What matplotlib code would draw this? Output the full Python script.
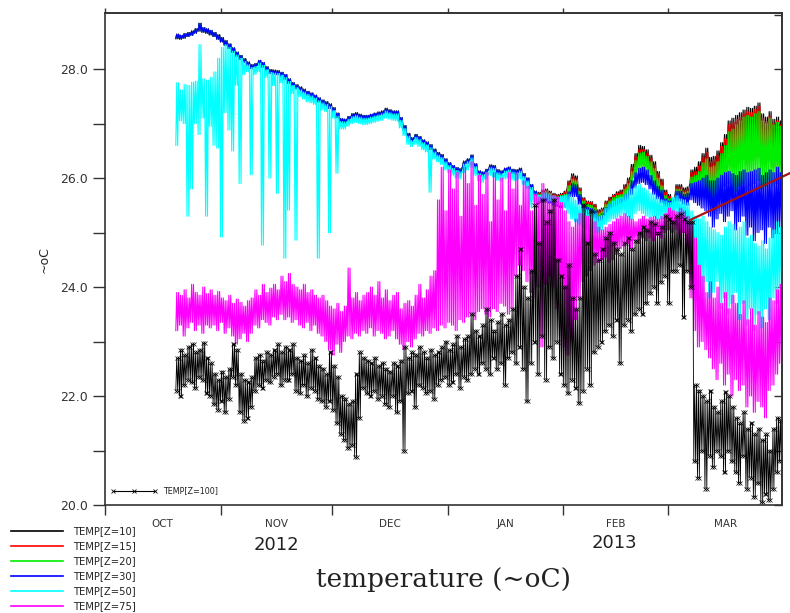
#!/usr/bin/env python3
"""
plot.py

Mooring temperature at seven depths, Oct 2012 - Mar 2013 (Ferret style).
Each day is given as a low / high pair read off the original figure.
"""

import numpy as np
import matplotlib
matplotlib.use('Agg')
from matplotlib import pyplot as plt
from matplotlib import rcParams
from matplotlib.lines import Line2D

# days are counted from 1 Oct 2012
first_day = 19
split_day = 116

# the four shallow sensors sit on top of each other until late January
surf_hi = [28.64, 28.62, 28.65, 28.67, 28.70, 28.74, 28.84, 28.76, 28.74, 28.71,
           28.67, 28.63, 28.58, 28.52, 28.46, 28.39, 28.31, 28.25, 28.19, 28.13,
           28.08, 28.10, 28.16, 28.12, 28.04, 27.99, 27.98, 27.97, 27.94, 27.90,
           27.82, 27.75, 27.71, 27.67, 27.63, 27.59, 27.56, 27.52, 27.47, 27.43,
           27.40, 27.36, 27.29, 27.19, 27.09, 27.08, 27.13, 27.18, 27.20, 27.17,
           27.15, 27.15, 27.17, 27.19, 27.21, 27.23, 27.28, 27.25, 27.23, 27.23,
           27.11, 26.96, 26.82, 26.74, 26.80, 26.76, 26.70, 26.66, 26.61, 26.53,
           26.47, 26.43, 26.35, 26.28, 26.23, 26.19, 26.17, 26.31, 26.35, 26.42,
           26.26, 26.13, 26.11, 26.16, 26.24, 26.23, 26.15, 26.13, 26.18, 26.20,
           26.16, 26.15, 26.18, 26.08, 26.00, 25.88, 25.76]
surf_lo = [28.56, 28.55, 28.57, 28.60, 28.62, 28.66, 28.70, 28.68, 28.66, 28.63,
           28.60, 28.55, 28.50, 28.44, 28.38, 28.31, 28.24, 28.18, 28.12, 28.06,
           28.01, 28.03, 28.07, 28.04, 27.96, 27.92, 27.91, 27.90, 27.86, 27.82,
           27.74, 27.68, 27.64, 27.60, 27.56, 27.52, 27.48, 27.44, 27.40, 27.36,
           27.32, 27.28, 27.21, 27.11, 27.02, 27.01, 27.05, 27.10, 27.12, 27.09,
           27.08, 27.08, 27.10, 27.12, 27.14, 27.16, 27.19, 27.18, 27.16, 27.15,
           27.03, 26.88, 26.74, 26.67, 26.72, 26.68, 26.63, 26.58, 26.53, 26.45,
           26.40, 26.35, 26.27, 26.20, 26.15, 26.11, 26.09, 26.22, 26.27, 26.33,
           26.18, 26.05, 26.03, 26.08, 26.15, 26.15, 26.07, 26.05, 26.10, 26.12,
           26.08, 26.07, 26.10, 26.00, 25.92, 25.80, 25.68]

# from split_day on, each shallow sensor separately
z10_hi = [25.74, 25.78, 25.80, 25.76, 25.72, 25.70, 25.72, 25.76, 25.95, 26.08,
          26.04, 25.82, 25.64, 25.58, 25.57, 25.52, 25.42, 25.45, 25.58, 25.65,
          25.70, 25.75, 25.78, 25.88, 26.00, 26.25, 26.45, 26.60, 26.58, 26.52,
          26.42, 26.30, 26.12, 25.98, 25.78, 25.70, 25.62, 25.88, 25.88, 25.82,
          25.84, 26.15, 26.20, 26.30, 26.45, 26.55, 26.38, 26.40, 26.50, 26.65,
          26.80, 27.05, 27.10, 27.15, 27.20, 27.25, 27.30, 27.28, 27.32, 27.38,
          27.18, 27.12, 27.22, 27.08, 27.12, 27.05]
z10_lo = [25.64, 25.68, 25.70, 25.66, 25.62, 25.60, 25.62, 25.64, 25.80, 25.92,
          25.90, 25.70, 25.52, 25.45, 25.44, 25.40, 25.30, 25.33, 25.45, 25.52,
          25.58, 25.62, 25.65, 25.72, 25.82, 26.02, 26.20, 26.35, 26.35, 26.30,
          26.20, 26.08, 25.92, 25.80, 25.62, 25.56, 25.50, 25.70, 25.72, 25.68,
          25.68, 25.90, 25.95, 26.00, 26.10, 26.20, 26.05, 26.05, 26.15, 26.25,
          26.35, 26.50, 26.55, 26.50, 26.60, 26.65, 26.70, 26.65, 26.70, 26.75,
          26.60, 26.55, 26.60, 26.50, 26.55, 26.50]
z15_hi = [25.72, 25.76, 25.78, 25.74, 25.70, 25.68, 25.70, 25.74, 25.92, 26.04,
          26.00, 25.80, 25.62, 25.56, 25.55, 25.50, 25.40, 25.43, 25.56, 25.62,
          25.68, 25.72, 25.75, 25.85, 25.96, 26.20, 26.40, 26.52, 26.52, 26.46,
          26.36, 26.24, 26.08, 25.94, 25.74, 25.66, 25.58, 25.84, 25.84, 25.78,
          25.80, 26.10, 26.12, 26.22, 26.38, 26.48, 26.30, 26.34, 26.42, 26.58,
          26.72, 26.98, 27.02, 27.08, 27.12, 27.18, 27.22, 27.20, 27.26, 27.32,
          27.10, 27.04, 27.14, 27.00, 27.05, 26.98]
z15_lo = [25.62, 25.66, 25.68, 25.64, 25.60, 25.58, 25.58, 25.60, 25.74, 25.86,
          25.84, 25.66, 25.48, 25.42, 25.40, 25.36, 25.26, 25.30, 25.42, 25.48,
          25.54, 25.58, 25.60, 25.66, 25.76, 25.94, 26.10, 26.24, 26.25, 26.20,
          26.10, 25.98, 25.84, 25.72, 25.56, 25.50, 25.44, 25.62, 25.64, 25.60,
          25.60, 25.80, 25.85, 25.90, 26.00, 26.05, 25.95, 25.95, 26.00, 26.10,
          26.20, 26.30, 26.25, 26.20, 26.30, 26.35, 26.25, 26.30, 26.35, 26.40,
          26.25, 26.20, 26.30, 26.20, 26.25, 26.20]
z20_hi = [25.70, 25.74, 25.76, 25.72, 25.68, 25.66, 25.68, 25.70, 25.86, 25.98,
          25.96, 25.76, 25.58, 25.52, 25.50, 25.46, 25.36, 25.40, 25.52, 25.58,
          25.64, 25.68, 25.70, 25.80, 25.90, 26.12, 26.32, 26.46, 26.48, 26.40,
          26.30, 26.18, 26.00, 25.86, 25.68, 25.62, 25.55, 25.80, 25.80, 25.74,
          25.76, 26.02, 26.05, 26.12, 26.28, 26.35, 26.20, 26.22, 26.30, 26.45,
          26.60, 26.85, 26.90, 26.98, 27.05, 27.12, 27.15, 27.12, 27.18, 27.22,
          27.05, 27.00, 27.10, 26.98, 27.02, 26.95]
z20_lo = [25.58, 25.62, 25.64, 25.60, 25.56, 25.54, 25.54, 25.55, 25.66, 25.76,
          25.76, 25.60, 25.44, 25.38, 25.36, 25.32, 25.22, 25.26, 25.38, 25.44,
          25.50, 25.52, 25.54, 25.60, 25.68, 25.84, 26.00, 26.12, 26.14, 26.10,
          26.00, 25.88, 25.74, 25.62, 25.48, 25.44, 25.38, 25.55, 25.58, 25.54,
          25.52, 25.70, 25.72, 25.70, 25.75, 25.80, 25.55, 25.50, 25.60, 25.75,
          25.85, 25.90, 25.80, 25.75, 25.85, 25.90, 25.80, 25.85, 25.90, 25.95,
          25.80, 25.85, 25.95, 25.85, 25.90, 25.85]
z30_hi = [25.66, 25.70, 25.72, 25.68, 25.64, 25.62, 25.62, 25.62, 25.75, 25.90,
          25.88, 25.70, 25.52, 25.46, 25.44, 25.40, 25.30, 25.34, 25.46, 25.52,
          25.56, 25.60, 25.62, 25.70, 25.78, 25.95, 26.10, 26.18, 26.20, 26.15,
          26.05, 25.95, 25.85, 25.78, 25.62, 25.58, 25.52, 25.76, 25.76, 25.70,
          25.72, 25.90, 25.92, 25.95, 26.00, 26.05, 25.95, 25.95, 26.00, 26.05,
          26.10, 26.12, 26.08, 26.05, 26.12, 26.15, 26.10, 26.12, 26.15, 26.18,
          26.05, 26.10, 26.15, 26.10, 26.20, 26.10]
z30_lo = [25.52, 25.56, 25.58, 25.54, 25.50, 25.48, 25.46, 25.46, 25.55, 25.66,
          25.66, 25.52, 25.36, 25.30, 25.28, 25.24, 25.14, 25.18, 25.30, 25.36,
          25.40, 25.42, 25.44, 25.50, 25.56, 25.70, 25.82, 25.90, 25.92, 25.88,
          25.80, 25.70, 25.62, 25.55, 25.42, 25.40, 25.35, 25.55, 25.58, 25.52,
          25.50, 25.60, 25.55, 25.50, 25.45, 25.40, 25.30, 25.10, 25.25, 25.35,
          25.20, 25.30, 25.40, 25.05, 25.20, 25.30, 24.95, 25.10, 24.85, 25.00,
          25.05, 24.80, 25.10, 24.90, 25.00, 25.10]

# deeper sensors, whole record from first_day
z50_hi = [27.75, 27.62, 27.72, 27.70, 27.76, 27.78, 28.45, 27.82, 27.80, 27.85,
          27.95, 28.20, 28.40, 28.45, 28.40, 28.33, 28.26, 28.20, 28.14, 28.08,
          28.03, 28.05, 28.11, 28.07, 27.99, 27.94, 27.93, 27.92, 27.89, 27.85,
          27.77, 27.70, 27.66, 27.62, 27.58, 27.54, 27.51, 27.47, 27.42, 27.38,
          27.35, 27.31, 27.24, 27.14, 27.04, 27.03, 27.08, 27.13, 27.15, 27.12,
          27.10, 27.10, 27.12, 27.14, 27.16, 27.18, 27.23, 27.20, 27.18, 27.18,
          27.06, 26.91, 26.77, 26.69, 26.75, 26.71, 26.65, 26.61, 26.56, 26.48,
          26.42, 26.38, 26.30, 26.23, 26.18, 26.14, 26.12, 26.26, 26.30, 26.37,
          26.21, 26.08, 26.06, 26.11, 26.19, 26.18, 26.10, 26.08, 26.13, 26.15,
          26.11, 26.10, 26.13, 26.03, 25.95, 25.83, 25.71, 25.69, 25.73, 25.75,
          25.71, 25.67, 25.65, 25.67, 25.69, 25.70, 25.65, 25.60, 25.50, 25.45,
          25.42, 25.40, 25.35, 25.30, 25.32, 25.45, 25.52, 25.58, 25.62, 25.65,
          25.70, 25.78, 25.80, 25.85, 25.88, 25.82, 25.78, 25.72, 25.70, 25.65,
          25.60, 25.58, 25.55, 25.65, 25.68, 25.62, 25.60, 25.55, 25.40, 25.30,
          25.25, 25.30, 25.20, 25.10, 25.05, 25.00, 24.95, 25.10, 25.20, 25.15,
          25.05, 25.10, 25.20, 24.90, 24.95, 24.80, 24.75, 24.85, 24.70, 24.90,
          25.05, 25.20, 25.10]
z50_lo = [26.60, 27.05, 27.00, 25.30, 25.80, 27.00, 26.80, 27.10, 25.30, 26.95,
          26.60, 26.55, 24.92, 27.20, 26.88, 26.50, 27.70, 25.90, 27.90, 27.95,
          26.06, 27.90, 27.95, 24.77, 27.85, 26.00, 27.70, 25.72, 27.75, 24.53,
          25.41, 27.55, 24.86, 27.50, 27.45, 27.40, 27.38, 27.35, 24.53, 27.25,
          27.22, 25.00, 27.10, 26.09, 26.90, 26.90, 26.95, 27.00, 27.02, 27.00,
          26.98, 26.98, 27.00, 27.02, 27.04, 27.06, 27.10, 27.08, 27.06, 27.05,
          26.92, 26.78, 26.62, 26.58, 26.62, 26.58, 26.52, 26.48, 25.74, 26.35,
          26.30, 26.25, 26.15, 26.10, 26.05, 26.00, 25.98, 26.10, 26.15, 26.20,
          26.05, 25.95, 25.92, 25.98, 26.05, 26.02, 25.96, 25.94, 25.98, 26.00,
          25.96, 25.95, 25.98, 25.88, 25.80, 25.45, 25.56, 25.56, 25.60, 25.62,
          25.58, 25.55, 25.52, 25.50, 25.45, 25.35, 25.25, 25.20, 25.15, 25.10,
          25.05, 25.02, 25.00, 25.00, 25.05, 25.15, 25.20, 25.25, 25.25, 25.30,
          25.35, 25.30, 25.25, 25.35, 25.40, 25.35, 25.30, 25.28, 25.30, 25.25,
          25.25, 25.30, 25.28, 25.30, 25.35, 25.30, 25.25, 25.10, 24.60, 24.20,
          24.00, 23.85, 24.10, 23.80, 23.90, 24.10, 23.60, 23.80, 23.50, 23.70,
          23.90, 23.40, 23.70, 23.30, 23.60, 23.20, 23.50, 23.25, 23.60, 23.40,
          23.80, 23.70, 24.00]
z75_hi = [23.90, 23.85, 23.95, 23.80, 24.05, 23.90, 23.85, 24.00, 23.88, 23.95,
          23.85, 23.92, 23.80, 23.75, 23.85, 23.70, 23.78, 23.72, 23.65, 23.75,
          23.80, 23.95, 23.85, 24.05, 23.90, 23.98, 24.05, 23.95, 24.20, 24.10,
          24.25, 24.05, 24.00, 23.95, 24.05, 23.90, 23.95, 23.85, 23.80, 23.85,
          23.75, 23.65, 23.60, 23.70, 23.55, 23.65, 24.35, 23.80, 23.90, 23.75,
          23.85, 23.90, 24.00, 23.85, 24.10, 23.80, 23.95, 23.75, 23.85, 23.90,
          23.60, 23.70, 23.75, 23.65, 23.85, 24.05, 23.80, 23.95, 24.20, 24.30,
          25.60, 26.20, 25.40, 26.15, 25.80, 26.10, 25.30, 26.20, 25.90, 26.30,
          25.50, 26.05, 25.70, 26.10, 25.20, 26.10, 25.60, 26.00, 25.40, 26.10,
          25.80, 26.10, 25.50, 25.95, 25.85, 25.40, 25.70, 25.65, 25.90, 25.75,
          25.70, 25.68, 25.65, 25.55, 25.40, 25.20, 25.10, 25.25, 25.35, 25.35,
          25.30, 25.25, 25.20, 25.10, 25.05, 25.10, 25.15, 25.20, 25.25, 25.30,
          25.35, 25.30, 25.25, 25.20, 25.25, 25.30, 25.25, 25.28, 25.30, 25.25,
          25.30, 25.35, 25.45, 25.40, 25.38, 25.45, 25.40, 25.30, 25.20, 24.90,
          24.40, 24.20, 23.90, 24.10, 23.80, 24.00, 23.70, 23.90, 23.60, 23.85,
          23.70, 23.50, 23.75, 23.40, 23.60, 23.30, 23.55, 23.45, 23.35, 23.80,
          23.75, 23.95, 24.05]
z75_lo = [23.20, 23.30, 23.10, 23.25, 23.35, 23.20, 23.30, 23.15, 23.30, 23.25,
          23.30, 23.20, 23.35, 23.15, 23.25, 23.10, 22.95, 23.05, 23.15, 23.00,
          23.15, 23.30, 23.25, 23.40, 23.35, 23.30, 23.45, 23.40, 23.50, 23.40,
          23.45, 23.35, 23.40, 23.30, 23.25, 23.35, 23.20, 23.30, 23.15, 23.10,
          23.00, 22.85, 22.75, 22.95, 22.80, 23.00, 23.10, 23.05, 23.15, 23.10,
          23.20, 23.15, 23.25, 23.10, 23.20, 23.15, 23.05, 23.10, 23.20, 23.05,
          22.95, 22.85, 23.00, 22.90, 23.05, 23.15, 23.10, 23.20, 23.15, 23.25,
          23.20, 23.30, 23.25, 23.35, 23.30, 23.20, 23.40, 23.35, 23.45, 23.50,
          23.40, 23.55, 23.60, 23.50, 23.45, 23.60, 23.55, 23.70, 23.65, 23.50,
          23.60, 24.20, 24.40, 24.30, 24.10, 23.90, 23.80, 24.00, 22.90, 24.05,
          24.20, 24.00, 23.60, 23.20, 22.90, 22.75, 23.00, 23.40, 23.80, 24.10,
          24.20, 24.30, 24.40, 24.45, 24.50, 24.55, 24.45, 24.50, 24.60, 24.70,
          24.75, 24.80, 24.70, 24.85, 24.80, 24.90, 24.85, 24.90, 24.85, 24.95,
          24.90, 25.00, 25.05, 25.00, 25.05, 24.95, 25.00, 24.60, 23.80, 23.20,
          22.90, 23.00, 22.85, 22.70, 22.50, 22.30, 22.60, 22.20, 22.40, 22.00,
          22.30, 22.10, 22.20, 21.80, 22.00, 21.70, 21.90, 21.80, 21.60, 22.10,
          22.20, 22.40, 22.60]
z100_hi = [22.70, 22.85, 22.75, 22.90, 22.95, 22.80, 22.85, 22.98, 22.70, 22.60,
           22.40, 22.30, 22.45, 22.35, 22.50, 22.95, 22.85, 22.40, 22.30, 22.25,
           22.35, 22.70, 22.75, 22.65, 22.80, 22.75, 22.85, 22.95, 22.80, 22.90,
           22.85, 22.95, 22.70, 22.65, 22.75, 22.60, 22.85, 22.70, 22.55, 22.50,
           22.40, 22.80, 22.55, 22.35, 22.00, 21.95, 21.85, 21.90, 22.40, 22.80,
           22.70, 22.65, 22.60, 22.70, 22.55, 22.60, 22.50, 22.45, 22.60, 22.55,
           22.65, 22.90, 22.70, 22.80, 22.75, 22.90, 22.80, 22.70, 22.85, 22.75,
           22.80, 22.90, 23.00, 22.85, 22.95, 23.10, 22.90, 23.05, 23.10, 23.50,
           23.20, 23.10, 23.30, 23.60, 23.40, 23.20, 23.35, 23.50, 23.30, 23.40,
           23.60, 24.20, 24.70, 24.00, 23.80, 24.30, 25.50, 24.80, 25.60, 25.20,
           25.40, 25.60, 24.50, 24.20, 24.00, 24.40, 23.80, 23.60, 23.80, 25.50,
           24.80, 25.40, 24.60, 24.50, 24.70, 24.90, 25.00, 24.80, 24.70, 24.60,
           24.80, 24.90, 24.70, 24.85, 25.00, 25.10, 25.05, 25.20, 25.15, 25.00,
           25.10, 25.30, 25.25, 25.20, 25.30, 25.35, 25.25, 25.20, 25.20, 22.20,
           22.10, 22.00, 21.90, 22.10, 21.80, 21.70, 21.90, 22.07, 22.00, 21.80,
           21.60, 21.50, 21.70, 21.40, 21.50, 21.30, 21.40, 21.20, 21.30, 21.00,
           21.40, 21.60, 21.55]
z100_lo = [22.10, 22.00, 22.20, 22.30, 22.25, 22.15, 22.35, 22.30, 22.05, 22.00,
           21.85, 21.75, 21.90, 21.70, 21.95, 22.35, 22.20, 21.70, 21.55, 21.60,
           21.80, 22.10, 22.20, 22.15, 22.30, 22.25, 22.35, 22.40, 22.20, 22.30,
           22.30, 22.40, 22.10, 22.05, 22.20, 22.00, 22.15, 22.10, 21.95, 21.90,
           21.80, 21.90, 21.75, 21.50, 21.30, 21.20, 21.05, 21.10, 20.88, 21.60,
           22.15, 22.05, 22.00, 22.10, 21.95, 22.00, 21.85, 21.80, 22.00, 21.70,
           21.90, 21.00, 22.05, 22.10, 21.80, 22.20, 22.15, 22.05, 22.10, 21.95,
           22.20, 22.30, 22.35, 22.20, 22.25, 22.40, 22.15, 22.35, 22.30, 22.40,
           22.50, 22.40, 22.60, 22.50, 22.40, 22.70, 22.50, 22.60, 22.20, 22.70,
           22.80, 22.60, 22.90, 22.50, 21.90, 22.60, 23.00, 22.40, 23.10, 22.30,
           22.90, 22.70, 23.00, 22.40, 22.20, 22.05, 22.30, 22.15, 21.87, 22.10,
           22.50, 22.20, 22.80, 22.90, 23.00, 23.20, 23.30, 23.10, 23.40, 22.60,
           23.30, 23.40, 23.20, 23.50, 23.60, 23.50, 23.70, 23.90, 24.00, 23.70,
           24.10, 24.20, 23.70, 24.30, 24.30, 24.40, 23.45, 24.30, 24.00, 20.80,
           20.50, 21.00, 20.30, 20.90, 20.70, 21.00, 20.90, 20.60, 21.00, 20.80,
           20.60, 20.40, 20.90, 20.30, 20.50, 20.15, 20.40, 20.05, 20.20, 20.10,
           20.30, 20.60, 20.80]

# straight trend segment drawn over March
trend_days = [157.0, 183.8]
trend_vals = [25.23, 26.09]

month_starts = [0, 31, 61, 92, 123, 151, 182]
month_names = ['OCT', 'NOV', 'DEC', 'JAN', 'FEB', 'MAR']

labels = ['TEMP[Z=10]', 'TEMP[Z=15]', 'TEMP[Z=20]', 'TEMP[Z=30]',
          'TEMP[Z=50]', 'TEMP[Z=75]']
colors = ['#000000', '#ff0000', '#00ee00', '#0000ff', '#00ffff', '#ff00ff']


def zigzag(start, lo, hi):
  """swing twice a day between the day's low and high"""
  days = start + np.arange(len(lo))
  t = np.column_stack([days, days + 0.25, days + 0.5, days + 0.75]).ravel()
  v = np.column_stack([lo, hi, lo, hi]).ravel()
  return t, v


def main():

  W, H = 790.0, 613.0
  rcParams['font.family'] = 'DejaVu Sans'
  rcParams['text.color'] = '#222222'
  rcParams['xtick.color'] = '#333333'
  rcParams['ytick.color'] = '#333333'

  fig = plt.figure(figsize=(7.9, 6.13), dpi=100)
  ax = fig.add_axes([105/W, 1 - 505/H, (781.7 - 105)/W, (505 - 13)/H])

  # shallow sensors: shared early part + own late part
  late = [(z10_lo, z10_hi), (z15_lo, z15_hi), (z20_lo, z20_hi), (z30_lo, z30_hi)]
  for (lo, hi), color in zip(late, colors[:4]):
    t, v = zigzag(first_day, np.r_[surf_lo, lo], np.r_[surf_hi, hi])
    ax.plot(t, v, color=color, lw=0.8)

  t, v = zigzag(first_day, z50_lo, z50_hi)
  ax.plot(t, v, color=colors[4], lw=0.8)
  t, v = zigzag(first_day, z75_lo, z75_hi)
  ax.plot(t, v, color=colors[5], lw=0.8)
  t, v = zigzag(first_day, z100_lo, z100_hi)
  ax.plot(t, v, color='k', lw=0.6, marker='x', ms=3.0, mew=0.5)

  ax.plot(trend_days, trend_vals, color='#a81212', lw=1.6, clip_on=False)

  ax.set_xlim(0, 181.6)
  ax.set_ylim(20, 29.03)

  for s in ax.spines.values():
    s.set_color('#333333')
    s.set_linewidth(1.2)

  # y axis: labelled even degrees, ticks every degree, out on the left
  ax.set_yticks(np.arange(20, 29, 2))
  ax.set_yticklabels(['%.1f' % y for y in np.arange(20, 29, 2)])
  ax.set_yticks(np.arange(21, 29, 2), minor=True)
  ax.tick_params(axis='y', which='both', direction='out', length=8.6,
                 width=1.0, pad=3.6, labelsize=9)
  right = ax.secondary_yaxis('right')
  right.set_yticks(np.arange(20, 30))
  right.tick_params(direction='in', length=6, width=1.0, labelright=False)
  right.spines['right'].set_color('#333333')
  right.spines['right'].set_linewidth(1.2)

  # x axis: ticks at month starts, names in the middle of each month
  ax.set_xticks(month_starts[:-1])
  ax.set_xticklabels([])
  mids = [(a + b) / 2.0 for a, b in zip(month_starts[:-1], month_starts[1:])]
  ax.set_xticks(mids, minor=True)
  ax.set_xticklabels(month_names, minor=True)
  ax.tick_params(axis='x', which='major', direction='out', length=7, width=1.0)
  ax.tick_params(axis='x', which='minor', length=0, pad=10, labelsize=7.5)
  top = ax.secondary_xaxis('top')
  top.set_xticks(month_starts[:-1])
  top.tick_params(direction='out', length=3.6, width=1.0, labeltop=False)
  top.spines['top'].set_color('#333333')
  top.spines['top'].set_linewidth(1.2)

  # inner key for the deepest sensor
  ax.plot([0.0118, 0.0428, 0.0739], [0.0285] * 3, color='k', lw=0.8,
          marker='x', ms=3.2, mew=0.6, transform=ax.transAxes)
  ax.text(0.0857, 0.0285, 'TEMP[Z=100]', transform=ax.transAxes,
          fontsize=5.8, va='center')

  # years, axis label and title
  fig.text(276/W, 1 - 545/H, '2012', ha='center', va='center', fontsize=13)
  fig.text(614/W, 1 - 543/H, '2013', ha='center', va='center', fontsize=13)
  fig.text(44/W, 1 - 260/H, '~oC', rotation=90, ha='center', va='center',
           fontsize=9)
  fig.text(443/W, 1 - 580/H, 'temperature (~oC)', ha='center', va='center',
           family='DejaVu Serif', fontsize=19)

  # key below the plot
  for i, (label, color) in enumerate(zip(labels, colors)):
    y = 1 - (531 + 15 * i)/H
    fig.add_artist(Line2D([11/W, 63/W], [y, y], color=color, lw=1.2))
    fig.text(73/W, y, label, fontsize=7.2, va='center')

  fig.savefig('out.png', dpi=100)


if __name__ == '__main__':
  main()
